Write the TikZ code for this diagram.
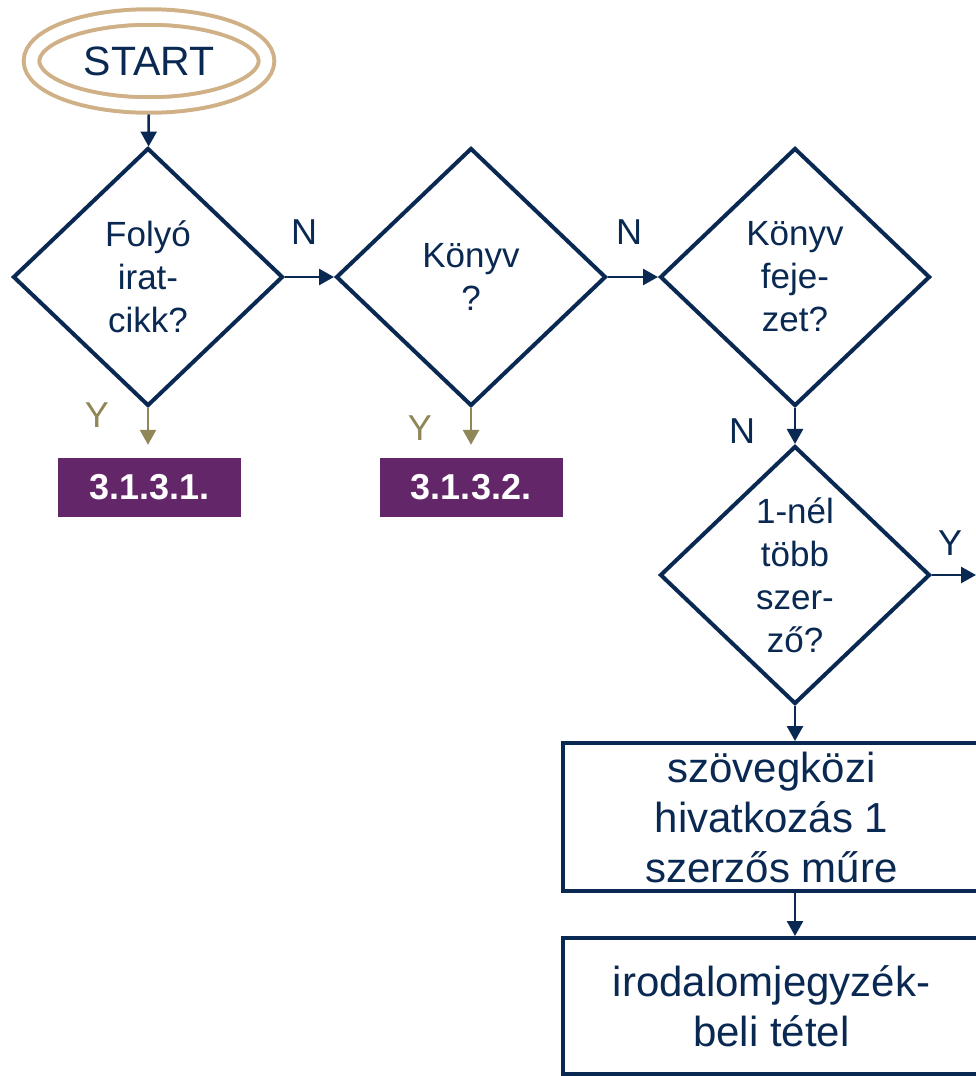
\documentclass[tikz,border=0pt]{standalone}
\usepackage{fontspec}
\setmainfont{Liberation Sans}
\usetikzlibrary{arrows.meta, shapes.geometric}
\definecolor{flownavy}{RGB}{10,41,82}
\definecolor{flowtan}{RGB}{208,177,135}
\definecolor{flowplum}{RGB}{99,38,104}
\definecolor{flowolive}{RGB}{144,135,88}

\begin{document}
\begin{tikzpicture}[x=1pt, y=-1pt, >={Triangle[length=15pt,width=16pt]},
  dec/.style={diamond, draw=flownavy, line width=4pt, text=flownavy, inner sep=0pt, minimum width=270pt, minimum height=258pt, align=center, font=\fontsize{35}{43}\selectfont},
  box/.style={rectangle, draw=flownavy, line width=4pt, text=flownavy, inner sep=0pt, minimum width=417pt, align=center, font=\fontsize{42}{50}\selectfont},
  sect/.style={rectangle, fill=flowplum, text=white, inner sep=0pt, minimum width=183pt, minimum height=59pt, font=\fontsize{36}{43}\bfseries\selectfont},
  lab/.style={text=flownavy, font=\fontsize{36}{43}\selectfont},
  go/.style={->, draw=flownavy, fill=flownavy, line width=2.5pt},
  yes/.style={->, draw=flowolive, fill=flowolive, line width=2.5pt}]
\clip (0,0) rectangle (976,1076);
\fill[white] (0,0) rectangle (976,1076);

\node (start) [ellipse, draw=flowtan, double=white, double distance=11.5pt, line width=4pt, minimum width=235pt, minimum height=88pt, outer sep=9.5pt, text=flownavy, font=\fontsize{41}{49}\selectfont] at (149,61) {START};

\node[dec] (d1) at (148,277) {Foly\'o\\irat-\\cikk?};
\node[dec] (d2) at (471,277) {K\"onyv\\?};
\node[dec] (d3) at (795,277) {K\"onyv\\feje-\\zet?};
\node[dec] (d4) at (795,575) {1-n\'el\\t\"obb\\szer-\\z\H{o}?};

\node[sect] (b1) at (149.5,487.5) {3.1.3.1.};
\node[sect] (b2) at (471,487.5) {3.1.3.2.};

\node[box, minimum height=148pt] (box3) at (771.5,817) {sz\"ovegk\"ozi\\hivatkoz\'as 1\\szerz\H{o}s m\H{u}re};
\node[box, minimum height=136pt] (box4) at (771.5,1006) {irodalomjegyz\'ek-\\beli t\'etel};

\node[lab] (n1) at (304,232) {N};
\node[lab] (n2) at (629,232) {N};
\node[lab] (n3) at (742,431) {N};
\node[lab] (y4) at (950,543) {Y};
\node[lab, text=flowolive] (y1) at (97,415) {Y};
\node[lab, text=flowolive] (y2) at (420,428) {Y};

\coordinate (yout) at (976,575);

\draw[go] (start) -- (d1);
\draw[go] (d1) -- (d2);
\draw[go] (d2) -- (d3);
\draw[go] (d3) -- (d4);
\draw[go] (d4) -- (yout);
\draw[go] (d4.south) -- (d4.south |- box3.north);
\draw[go] (box3.south -| d4) -- (box4.north -| d4);
\foreach \d/\b in {d1/b1, d2/b2}
    \draw[yes, shorten >=13pt] (\d.south) -- (\d.south |- \b.north);
\end{tikzpicture}
\end{document}
